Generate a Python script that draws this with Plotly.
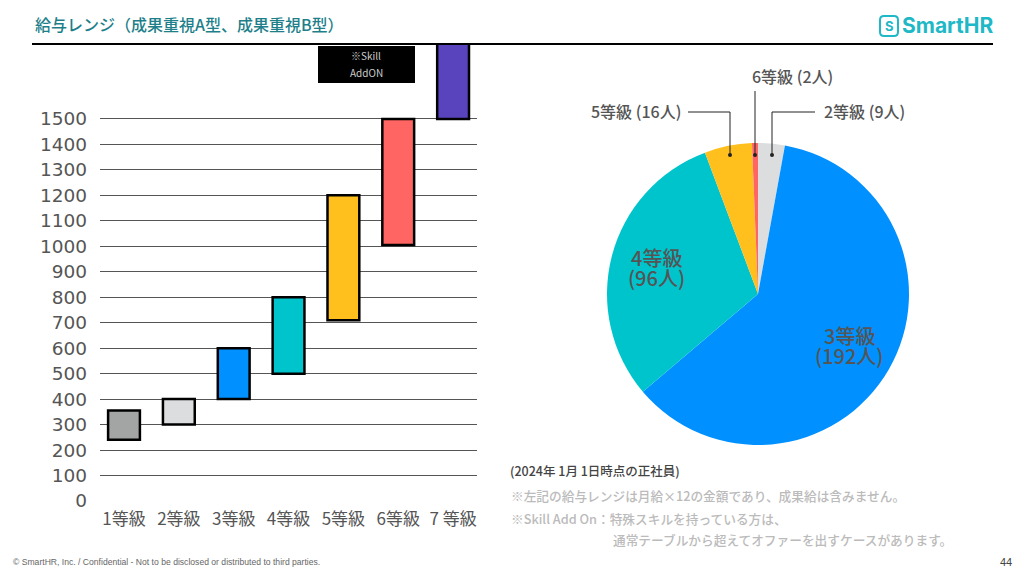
import plotly.graph_objects as go

# salary range by grade
grades = ["1等級", "2等級", "3等級", "4等級", "5等級", "6等級", "7 等級"]
range_low = [240, 300, 400, 500, 710, 1005, 1500]
range_high = [355, 400, 600, 800, 1200, 1500, 1800]
bar_colors = ["#A3A5A4", "#DCDDDF", "#0090FF", "#00C4CC", "#FFC01E", "#FF6562", "#5A44BE"]
y_ticks = list(range(0, 1600, 100))

# headcount
pie_labels = ["2等級", "3等級", "4等級", "5等級", "6等級"]
pie_values = [9, 192, 96, 16, 2]
pie_colors = ["#DCDDDF", "#0090FF", "#00C4CC", "#FFC01E", "#FF6562"]

W, H = 1024, 576
JP = "Noto Sans CJK JP"
GREY = "#555555"
TEAL = "#1FB8C6"


def px(x):
    return x / W


def py(y):
    return 1 - y / H


fig = go.Figure()

fig.add_trace(go.Bar(
    x=grades,
    y=[h - l for h, l in zip(range_high, range_low)],
    base=range_low,
    width=0.58,
    marker=dict(color=bar_colors, line=dict(color="black", width=2.5)),
    showlegend=False,
))

fig.add_trace(go.Pie(
    labels=pie_labels,
    values=pie_values,
    sort=False,
    direction="clockwise",
    rotation=0,
    marker=dict(colors=pie_colors, line=dict(width=0)),
    textinfo="none",
    showlegend=False,
    domain=dict(x=[px(607), px(909)], y=[py(445), py(143)]),
))

fig.update_layout(
    width=W,
    height=H,
    margin=dict(l=0, r=0, t=0, b=0),
    paper_bgcolor="white",
    plot_bgcolor="white",
    font=dict(family=JP, color=GREY),
    xaxis=dict(
        domain=[px(100), px(477)],
        range=[-0.4376, 6.436],
        tickfont=dict(size=17, color=GREY),
        ticks="",
        showgrid=False,
        showline=False,
        automargin=False,
        ticklabelstandoff=6,
    ),
    yaxis=dict(
        domain=[py(501), py(44)],
        range=[0, 1794],
        tickvals=y_ticks,
        tickfont=dict(size=18.5, color=GREY, family="DejaVu Sans"),
        ticks="",
        gridcolor="#555555",
        gridwidth=1,
        zeroline=False,
        showline=False,
        automargin=False,
        ticklabelstandoff=12,
    ),
)

# header rule
fig.add_shape(type="line", xref="paper", yref="paper", x0=px(32), x1=px(993), y0=py(44), y1=py(44),
              line=dict(color="black", width=2))
# black note box
fig.add_shape(type="rect", xref="paper", yref="paper", x0=px(318), x1=px(415), y0=py(83), y1=py(46),
              fillcolor="black", line=dict(width=0))
# logo icon
x0, x1, y0, y1 = px(880), px(898), py(36), py(16)
rx, ry = px(4), 4 / H
fig.add_shape(type="path", xref="paper", yref="paper", line=dict(color=TEAL, width=2),
              path=f"M {x0 + rx} {y0} L {x1 - rx} {y0} Q {x1} {y0} {x1} {y0 + ry} L {x1} {y1 - ry} Q {x1} {y1} {x1 - rx} {y1} "
                   f"L {x0 + rx} {y1} Q {x0} {y1} {x0} {y1 - ry} L {x0} {y0 + ry} Q {x0} {y0} {x0 + rx} {y0} Z")

# pie leaders
leaders = [
    ([(688, 112), (730, 112), (730, 155)]),
    ([(755, 91), (755, 155)]),
    ([(815, 112), (772, 112), (772, 155)]),
]
for pts in leaders:
    path = "M " + " L ".join(f"{px(x)} {py(y)}" for x, y in pts)
    fig.add_shape(type="path", xref="paper", yref="paper", path=path, line=dict(color="#222222", width=1))
    x, y = pts[-1]
    fig.add_shape(type="circle", xref="paper", yref="paper", x0=px(x - 2), x1=px(x + 2), y0=py(y + 2), y1=py(y - 2),
                  fillcolor="#222222", line=dict(width=0))


def note(text, x, y, size, color=GREY, anchor="left", family=JP, weight="normal"):
    fig.add_annotation(text=text, xref="paper", yref="paper", x=px(x), y=py(y), xanchor=anchor, yanchor="middle",
                       showarrow=False, align="center" if anchor == "center" else "left",
                       font=dict(size=size, color=color, family=family, weight=weight))


note("給与レンジ（成果重視A型、成果重視B型）", 33, 24, 16, color="#1E7F8A", weight=500)
note("SmartHR", 900, 26, 21, color=TEAL, family="Inter, Noto Sans", weight="bold")
note("S", 889, 26, 13, color=TEAL, anchor="center", family="Inter, Noto Sans", weight="bold")

note("※Skill", 366, 56, 10, color="#CCCCCC", anchor="center")
note("AddON", 366, 72, 10, color="#CCCCCC", anchor="center")

note("6等級 (2人)", 792, 76, 16, anchor="center", weight=500)
note("5等級 (16人)", 636, 111, 16, anchor="center", weight=500)
note("2等級 (9人)", 864, 111, 16, anchor="center", weight=500)
note("4等級", 656, 257, 20, anchor="center", weight=500)
note("(96人)", 656, 277, 20, anchor="center", weight=500)
note("3等級", 849, 335, 20, anchor="center", weight=500)
note("(192人)", 849, 355, 20, anchor="center", weight=500)

note("(2024年 1月 1日時点の正社員)", 508, 470, 12.5, color="#444444", weight=500)
note("※左記の給与レンジは月給×12の金額であり、成果給は含みません。", 509, 495, 12.7, color="#BBBBBB", weight=500)
note("※Skill Add On：特殊スキルを持っている方は、", 509, 518, 12.7, color="#BBBBBB", weight=500)
note("通常テーブルから超えてオファーを出すケースがあります。", 611, 539, 12.7, color="#BBBBBB", weight=500)

note("© SmartHR, Inc. / Confidential - Not to be disclosed or distributed to third parties.", 11, 562, 8.6,
     color="#666666", family="Liberation Sans")
note("44", 998, 562, 11, color="#444444", family="Liberation Sans")

fig.write_html(
    "out.html",
    config=dict(displayModeBar=False),
    post_script="document.body.style.margin='0';",
)
